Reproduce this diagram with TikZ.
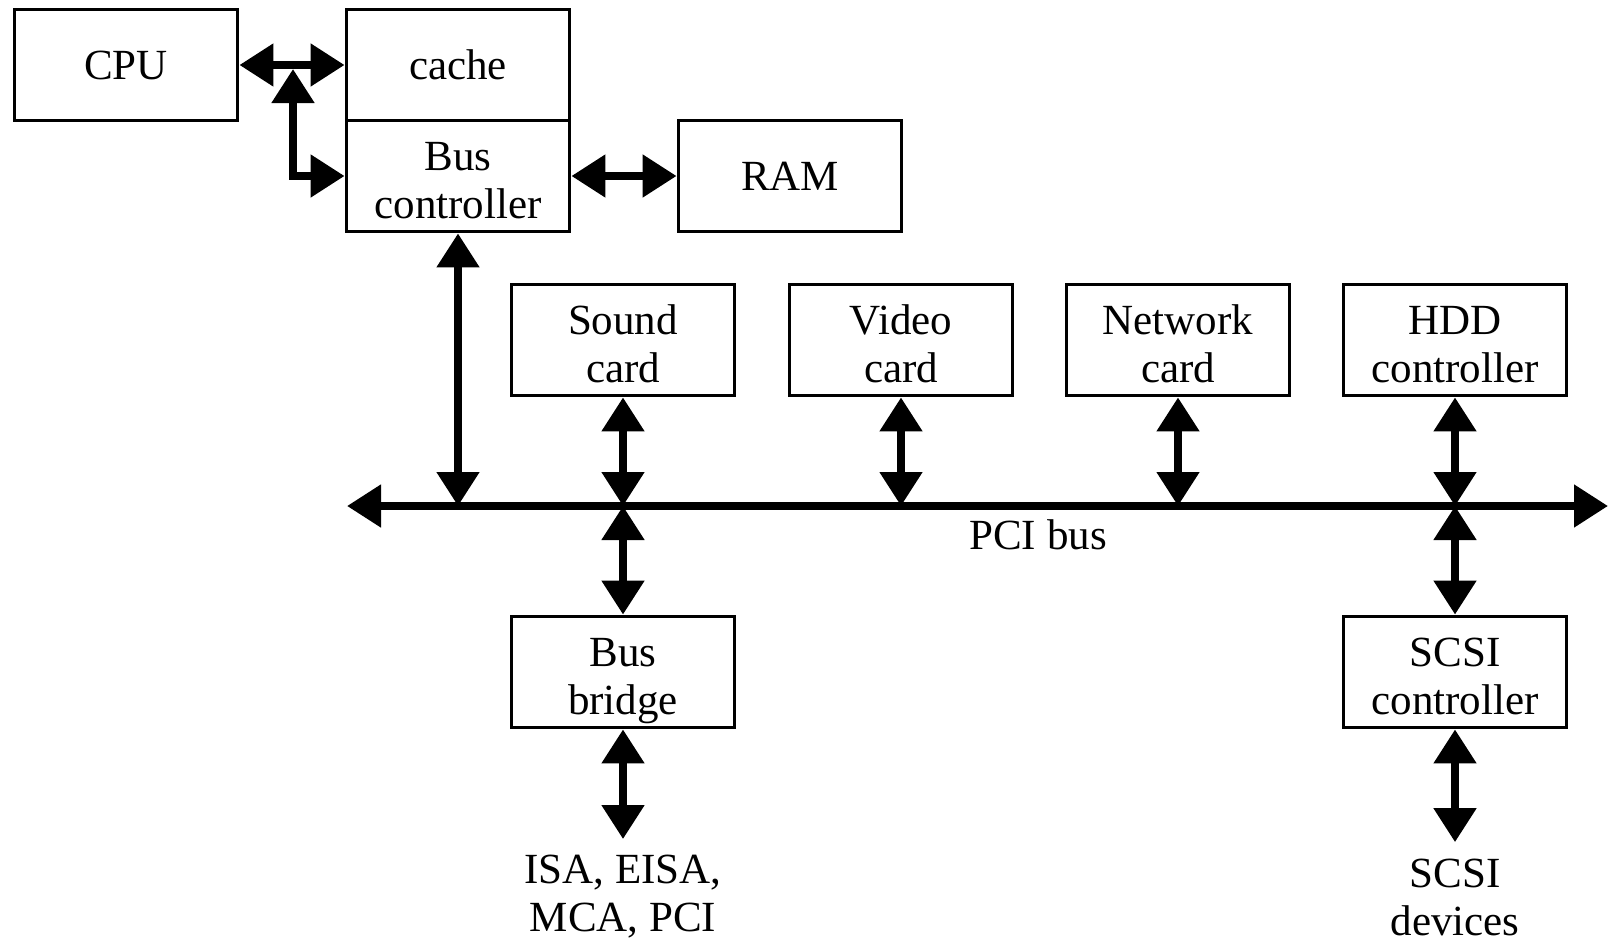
\documentclass[tikz,border=0pt]{standalone}
\usepackage{fontspec}
\setmainfont{Liberation Serif}
\usetikzlibrary{arrows, arrows.meta}

\tikzset{
  unit/.style={draw, line width=1.9pt, minimum width=111.5pt, minimum height=55.5pt, inner sep=0pt, align=center, font=\fontsize{21.5}{24}\selectfont},
  one/.style={execute at begin node={\rule{0pt}{17pt}}, execute at end node={\rule[-3pt]{0pt}{3pt}}},
  pair/.style={text height=45pt, text depth=3pt},
  label/.style={align=center, inner sep=0pt, font=\fontsize{21.5}{24}\selectfont},
  link/.style={line width=4pt, {Triangle[length=17pt,width=20.5pt]}-{Triangle[length=17pt,width=20.5pt]}}
}

\begin{document}
\begin{tikzpicture}[x=0.5pt, y=-0.5pt]
\useasboundingbox (0,0) rectangle (1610,942);

\node[unit, one] (CPU) at (126,65) {CPU};
\node[unit, one] (Cache) at (458,65) {cache};
\node[unit, pair] (BusCtl) at (458,176) {Bus\\controller};
\node[unit, one] (RAM) at (790,176) {RAM};

\node[unit, pair] (Sound) at (623,340) {Sound\\card};
\node[unit, pair] (Video) at (901,340) {Video\\card};
\node[unit, pair] (Network) at (1178,340) {Network\\card};
\node[unit, pair] (HDD) at (1455,340) {HDD\\controller};

\node[unit, pair] (Bridge) at (623,672) {Bus\\bridge};
\node[unit, pair] (SCSI) at (1455,672) {SCSI\\controller};

\node[label] (ISA) at (623,897) {ISA, EISA,\\MCA, PCI};
\node[label] (Devices) at (1455,897) {SCSI\\devices};

\coordinate (BusL) at (347,506);
\coordinate (BusR) at (1608,506);
\coordinate (Fork) at (293,69);

\draw [link] (BusL) -- (BusR) node[pos=0.548, below=5pt, label] {PCI bus};

\draw [link] (CPU) -- (Cache);
\draw [link] (Fork) |- (BusCtl.west);
\draw [link] (BusCtl) -- (RAM);
\draw [link] (BusCtl.south) -- (BusCtl.south |- BusL);

\draw [link] (Sound.south) -- (Sound.south |- BusL);
\draw [link] (Video.south) -- (Video.south |- BusL);
\draw [link] (Network.south) -- (Network.south |- BusL);
\draw [link] (HDD.south) -- (HDD.south |- BusL);

\draw [link] (Bridge.north |- BusL) -- (Bridge.north);
\draw [link] (SCSI.north |- BusL) -- (SCSI.north);

\draw [link] (Bridge.south) -- ([yshift=8pt]ISA.north);
\draw [link] (SCSI.south) -- ([yshift=8pt]Devices.north);

\end{tikzpicture}
\end{document}
